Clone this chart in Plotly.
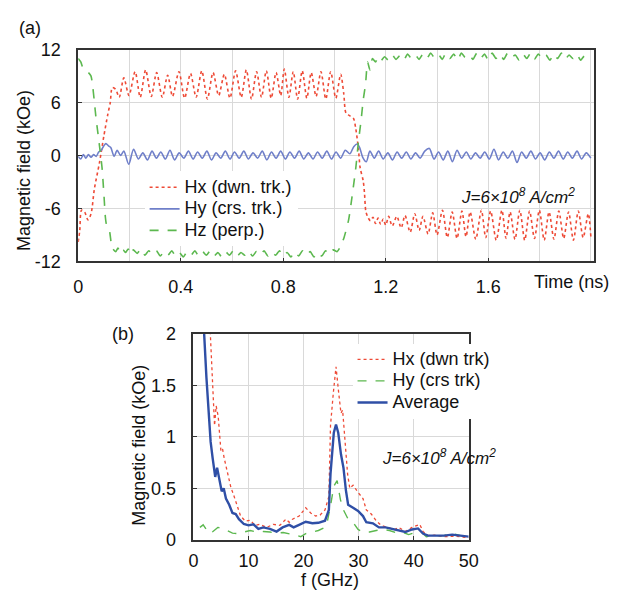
import plotly.graph_objects as go

W, H = 631, 601

# ---------------- Panel (a): time domain ----------------
hx_t = [0.0, 0.006, 0.013, 0.025, 0.038, 0.05, 0.063, 0.083, 0.10, 0.115, 0.125, 0.133, 0.146, 0.16,
        0.178, 0.198, 0.222, 0.242, 0.263, 0.285, 0.306, 0.328, 0.349, 0.368, 0.393, 0.415, 0.438,
        0.46, 0.482, 0.504, 0.526, 0.548, 0.57, 0.592, 0.614, 0.636, 0.656, 0.676, 0.696, 0.715,
        0.734, 0.753, 0.772, 0.79, 0.804, 0.822, 0.839, 0.856, 0.874, 0.892, 0.909, 0.928, 0.947,
        0.966, 0.985, 1.005, 1.024, 1.036, 1.045, 1.06, 1.074, 1.083, 1.093, 1.10, 1.112, 1.117,
        1.122, 1.13, 1.14, 1.15, 1.16, 1.17, 1.18, 1.19, 1.20, 1.211, 1.225, 1.243, 1.26, 1.275,
        1.295, 1.313, 1.33, 1.345, 1.365, 1.383, 1.40, 1.421, 1.44, 1.459, 1.478, 1.497, 1.513,
        1.529, 1.551, 1.573, 1.59, 1.609, 1.631, 1.653, 1.669, 1.685, 1.704, 1.723, 1.742, 1.761,
        1.78, 1.799, 1.818, 1.837, 1.856, 1.875, 1.894, 1.913, 1.932, 1.951, 1.97, 1.99, 2.0]
hx_v = [-9.8, -8.5, -6.2, -6.4, -7.3, -6.6, -3.8, -0.8, 2.2, 4.6, 6.0, 7.7, 7.5, 6.6,
        8.8, 6.8, 9.5, 6.6, 9.7, 6.7, 9.4, 6.6, 9.1, 6.7, 9.5, 6.5, 9.3,
        6.6, 9.6, 6.4, 9.4, 6.8, 9.2, 6.5, 9.6, 6.6, 9.7, 6.4, 9.5, 6.6,
        9.6, 6.5, 9.4, 6.8, 9.8, 6.6, 9.5, 6.4, 9.6, 6.5, 9.4, 6.7, 9.5,
        6.4, 9.5, 6.5, 9.2, 7.0, 4.8, 4.5, 4.2, 3.0, 0.8, -1.4, -2.9, -4.3,
        -6.3, -7.0, -7.4, -7.0, -7.7, -7.1, -7.8, -7.2, -7.9, -6.9, -8.0, -6.9, -8.2, -6.8,
        -8.7, -6.6, -8.5, -6.9, -8.9, -6.5, -9.0, -6.2, -9.3, -6.4, -9.4, -6.3, -9.2,
        -6.4, -9.5, -6.2, -9.3, -6.3, -9.6, -6.2, -9.4, -6.4, -9.5, -6.2, -9.6, -6.3,
        -9.4, -6.2, -9.6, -6.4, -9.5, -6.3, -9.4, -6.4, -9.6, -6.3, -9.3, -6.6, -9.2]

hy_t = [0.0, 0.01, 0.02, 0.03, 0.04, 0.05, 0.06, 0.07, 0.08, 0.09, 0.1, 0.108, 0.118, 0.127, 0.14,
        0.152, 0.165, 0.178, 0.197, 0.216, 0.235, 0.252, 0.27, 0.288, 0.305, 0.322, 0.34, 0.358,
        0.376, 0.394, 0.412, 0.43, 0.448, 0.466, 0.484, 0.502, 0.52, 0.538, 0.556, 0.574, 0.592,
        0.61, 0.628, 0.646, 0.664, 0.682, 0.70, 0.718, 0.736, 0.754, 0.772, 0.79, 0.808, 0.826,
        0.844, 0.862, 0.88, 0.898, 0.916, 0.934, 0.952, 0.97, 0.988, 1.006, 1.024, 1.042, 1.06,
        1.075, 1.088, 1.098, 1.11, 1.124, 1.138, 1.155, 1.172, 1.19, 1.208, 1.226, 1.244, 1.262,
        1.28, 1.298, 1.316, 1.334, 1.352, 1.37, 1.388, 1.406, 1.424, 1.442, 1.46, 1.478, 1.496,
        1.514, 1.532, 1.55, 1.568, 1.586, 1.604, 1.622, 1.64, 1.658, 1.676, 1.694, 1.712, 1.73,
        1.748, 1.766, 1.784, 1.802, 1.82, 1.838, 1.856, 1.874, 1.892, 1.91, 1.928, 1.946, 1.964,
        1.982, 2.0]
hy_v = [-0.1, -0.4, 0.1, -0.3, 0.1, -0.2, 0.1, -0.1, 0.4, 0.6, 1.1, 1.35, 1.1, 0.9, -0.1,
        0.6, 0.0, 0.5, -1.0, 0.7, -0.4, 0.3, -0.5, 0.5, -0.3, 0.4, -0.4, 0.6,
        -0.5, 0.3, -0.3, 0.5, -0.4, 0.4, -0.3, 0.5, -0.5, 0.3, -0.3, 0.5, -0.4,
        0.4, -0.3, 0.5, -0.4, 0.3, -0.3, 0.5, -0.5, 0.4, -0.3, 0.5, -0.4, 0.4,
        -0.3, 0.5, -0.4, 0.3, -0.4, 0.4, -0.3, 0.5, -0.4, 0.4, -0.3, 0.6, 0.2,
        1.0, 1.3, 0.9, -0.2, -0.7, 0.5, -0.3, 0.5, -0.4, 0.3, -0.5, 0.4, -0.3,
        0.4, -0.4, 0.3, -0.3, 0.5, 0.8, -0.4, 0.4, -0.5, 0.5, -0.7, 0.6, -0.3,
        0.4, -0.4, 0.3, -0.3, 0.4, -0.4, 0.7, -0.5, 0.4, -0.3, 0.5, -0.8, 0.4,
        -0.3, 0.5, -0.4, 0.3, -0.5, 0.4, -0.3, 0.5, -0.4, 0.4, -0.3, 0.5, -0.4,
        0.3, -0.3]

hz_t = [0.0, 0.01, 0.02, 0.03, 0.04, 0.05, 0.057, 0.064, 0.07, 0.077, 0.083, 0.093, 0.10, 0.106,
        0.11, 0.115, 0.123, 0.128, 0.133, 0.146, 0.155, 0.165, 0.175, 0.185, 0.195, 0.205, 0.215,
        0.23, 0.245, 0.26, 0.275, 0.29, 0.305, 0.32, 0.335, 0.35, 0.365, 0.38, 0.395, 0.41, 0.425,
        0.44, 0.455, 0.47, 0.485, 0.50, 0.515, 0.53, 0.545, 0.56, 0.575, 0.59, 0.605, 0.62, 0.635,
        0.65, 0.665, 0.68, 0.695, 0.71, 0.725, 0.74, 0.755, 0.77, 0.785, 0.80, 0.815, 0.83, 0.845,
        0.86, 0.875, 0.89, 0.905, 0.92, 0.935, 0.95, 0.965, 0.98, 0.995, 1.01, 1.02, 1.036, 1.055,
        1.07, 1.083, 1.093, 1.104, 1.112, 1.121, 1.129, 1.138, 1.148, 1.16, 1.17, 1.18, 1.195,
        1.21, 1.225, 1.24, 1.255, 1.27, 1.285, 1.30, 1.315, 1.33, 1.345, 1.36, 1.375, 1.39, 1.405,
        1.42, 1.435, 1.45, 1.465, 1.48, 1.495, 1.51, 1.525, 1.54, 1.555, 1.57, 1.585, 1.60, 1.615,
        1.63, 1.645, 1.66, 1.675, 1.69, 1.705, 1.72, 1.735, 1.75, 1.765, 1.78, 1.795, 1.81, 1.825,
        1.84, 1.855, 1.87, 1.885, 1.90, 1.915, 1.93, 1.945, 1.96, 1.975, 1.99, 2.0]
hz_v = [11.0, 10.6, 9.8, 9.6, 9.4, 9.0, 7.7, 5.8, 4.1, 2.5, 1.1, -1.4, -4.3, -7.0,
        -7.8, -8.0, -8.7, -9.8, -10.5, -10.9, -10.5, -11.1, -10.7, -11.0, -10.6, -11.2, -10.7,
        -11.1, -10.6, -11.3, -10.8, -11.2, -10.8, -11.4, -10.9, -11.3, -10.8, -11.4, -11.0, -11.5, -10.9,
        -11.3, -10.8, -11.4, -10.9, -11.3, -10.8, -11.4, -11.0, -11.5, -10.9, -11.3, -10.8, -11.4, -11.0,
        -11.3, -10.8, -11.4, -10.9, -11.3, -10.8, -11.4, -10.9, -11.3, -10.8, -11.4, -11.0, -11.5, -10.9,
        -11.4, -10.8, -11.3, -10.9, -11.5, -11.0, -11.4, -10.8, -11.2, -10.7, -10.9, -10.5, -9.4, -7.3,
        -4.3, -1.4, 1.5, 4.1, 6.3, 8.1, 10.6, 9.7, 11.0, 10.6, 11.1, 10.7, 11.2,
        10.8, 11.4, 10.9, 11.3, 10.8, 11.5, 11.0, 11.4, 10.9, 11.5, 11.0, 11.6, 11.1, 11.5,
        10.9, 11.6, 11.0, 11.5, 10.8, 11.6, 11.1, 11.4, 10.9, 11.6, 11.0, 11.5, 10.8, 11.6,
        11.0, 11.5, 10.9, 11.6, 11.1, 11.4, 10.8, 11.5, 11.0, 11.6, 10.9, 11.5, 11.0, 11.4,
        10.8, 11.5, 11.0, 11.6, 10.9, 11.4, 11.0, 11.5, 10.8, 11.3, 10.9, 11.0]

a_xticks = [0, 0.4, 0.8, 1.2, 1.6]
a_xlabels = ["0", "0.4", "0.8", "1.2", "1.6"]
a_yticks = [-12, -6, 0, 6, 12]
a_ylabels = ["-12", "-6", "0", "6", "12"]

# ---------------- Panel (b): frequency domain ----------------
avg_f = [1.7, 1.95, 2.36, 2.78, 3.13, 3.5, 3.96, 4.3, 4.73, 5.14, 5.5, 5.91, 6.5, 7.09, 7.68, 8.27,
         9.16, 10.0, 10.9, 11.8, 12.7, 13.9, 15.1, 16.2, 17.4, 18.2, 19.0, 20.4, 21.6, 22.7, 23.9,
         24.6, 24.9, 25.5, 25.9, 26.3, 26.8, 27.25, 27.7, 28.1, 29.0, 29.9, 30.8, 31.4, 32.6, 33.7,
         34.9, 36.1, 37.3, 38.5, 39.7, 40.8, 41.7, 42.6, 43.8, 45.5, 47.0, 48.5, 50.0]
avg_v = [2.4, 2.0, 1.58, 1.26, 0.95, 0.79, 0.61, 0.70, 0.575, 0.47, 0.50, 0.40, 0.34, 0.26, 0.25, 0.20,
         0.153, 0.14, 0.15, 0.106, 0.12, 0.106, 0.08, 0.12, 0.144, 0.12, 0.14, 0.175, 0.16, 0.165, 0.185,
         0.29, 0.64, 1.04, 1.12, 1.04, 0.83, 0.70, 0.48, 0.34, 0.31, 0.28, 0.23, 0.17, 0.16, 0.12,
         0.12, 0.106, 0.09, 0.075, 0.10, 0.11, 0.06, 0.04, 0.04, 0.04, 0.05, 0.04, 0.03]

bx_f = [2.9, 3.3, 3.55, 3.84, 4.13, 4.5, 5.0, 5.3, 5.6, 6.2, 6.8, 7.4, 8.0, 8.57, 9.45, 10.3, 11.2,
        12.1, 13.3, 14.5, 15.7, 16.8, 17.4, 18.0, 19.2, 20.4, 21.3, 22.2, 23.0, 23.9, 24.6, 24.9,
        25.4, 25.9, 26.4, 26.8, 27.1, 27.5, 28.0, 28.4, 29.0, 29.9, 30.8, 31.4, 32.3, 33.2, 34.1,
        35.3, 36.5, 37.3, 38.5, 39.7, 41.1, 41.7, 42.6, 43.8, 45.5, 47.5, 50.0]
bx_v = [2.2, 1.75, 1.42, 1.11, 1.3, 1.2, 0.86, 0.88, 0.79, 0.64, 0.51, 0.42, 0.33, 0.23, 0.18, 0.19, 0.14,
        0.15, 0.12, 0.15, 0.14, 0.2, 0.17, 0.2, 0.23, 0.31, 0.26, 0.23, 0.24, 0.29, 0.42, 1.11,
        1.42, 1.68, 1.42, 1.23, 1.26, 0.95, 0.64, 0.50, 0.53, 0.46, 0.40, 0.29, 0.25, 0.185, 0.14,
        0.12, 0.10, 0.12, 0.08, 0.12, 0.15, 0.08, 0.04, 0.045, 0.03, 0.035, 0.02]

by_f = [1.18, 1.77, 2.36, 2.95, 3.55, 4.43, 5.3, 6.2, 7.1, 8.0, 9.2, 10.3, 11.5, 12.7, 13.9, 15.1,
        16.3, 17.4, 18.6, 19.5, 20.4, 21.6, 22.7, 23.9, 24.3, 24.9, 25.5, 26.1, 26.7, 27.25, 28.1,
        29.0, 29.9, 30.8, 32.0, 33.2, 34.4, 35.6, 36.7, 37.9, 39.1, 40.3, 41.4, 42.3, 43.8, 45.5,
        47.0, 48.5, 50.0]
by_v = [0.12, 0.145, 0.10, 0.06, 0.08, 0.12, 0.11, 0.09, 0.065, 0.06, 0.075, 0.09, 0.075, 0.08, 0.075, 0.065,
        0.07, 0.06, 0.045, 0.03, 0.06, 0.075, 0.09, 0.12, 0.17, 0.33, 0.52, 0.575, 0.39, 0.29, 0.2,
        0.17, 0.10, 0.075, 0.075, 0.09, 0.10, 0.09, 0.07, 0.075, 0.05, 0.07, 0.075, 0.03, 0.04, 0.04,
        0.06, 0.04, 0.03]

b_xticks = [0, 10, 20, 30, 40, 50]
b_yticks = [0, 0.5, 1, 1.5, 2]
b_ylabels = ["0", "0.5", "1", "1.5", "2"]

RED = "#ee4a36"
BLUE_A = "#6f7fc9"
GREEN = "#5cb84f"
BLUE_AVG = "#2f4fa6"
FONT = "Liberation Sans, Arial, sans-serif"
TXT = "#111111"
GRID = "#d9d9d9"


def px(x):
    return x / W


def py(y):
    return 1 - y / H


def big(s):
    # legend spacing follows the (smaller) legend font; the visible text is 18 px
    return '<span style="font-size:18px">' + s + '</span>'


fig = go.Figure()

fig.add_trace(go.Scatter(x=hx_t, y=hx_v, mode="lines", name=big("Hx (dwn. trk.)"),
                         line=dict(color=RED, width=1.6, dash="dot", shape="spline", smoothing=0.8),
                         xaxis="x", yaxis="y", legend="legend"))
fig.add_trace(go.Scatter(x=hy_t, y=hy_v, mode="lines", name=big("Hy (crs. trk.)"),
                         line=dict(color=BLUE_A, width=1.6, shape="spline", smoothing=0.8),
                         xaxis="x", yaxis="y", legend="legend"))
fig.add_trace(go.Scatter(x=hz_t, y=hz_v, mode="lines", name=big("Hz (perp.)"),
                         line=dict(color=GREEN, width=1.6, dash="dash", shape="spline", smoothing=0.6),
                         xaxis="x", yaxis="y", legend="legend"))

fig.add_trace(go.Scatter(x=bx_f, y=bx_v, mode="lines", name=big("Hx (dwn trk)"),
                         line=dict(color=RED, width=1.3, dash="dot"),
                         xaxis="x2", yaxis="y2", legend="legend2"))
fig.add_trace(go.Scatter(x=by_f, y=by_v, mode="lines", name=big("Hy (crs trk)"),
                         line=dict(color=GREEN, width=1.4, dash="dash"),
                         xaxis="x2", yaxis="y2", legend="legend2"))
fig.add_trace(go.Scatter(x=avg_f, y=avg_v, mode="lines", name=big("Average"),
                         line=dict(color=BLUE_AVG, width=2.4),
                         xaxis="x2", yaxis="y2", legend="legend2"))

axis_common = dict(showline=True, linecolor="#333333", linewidth=1.5, mirror=True,
                   gridcolor=GRID, gridwidth=1, zeroline=False,
                   ticks="inside", ticklen=4, tickcolor="#333333",
                   tickfont=dict(family=FONT, size=18, color=TXT))

LEG_FONT = dict(family=FONT, size=14.3, color=TXT)

fig.update_layout(
    width=W, height=H,
    margin=dict(l=0, r=0, t=0, b=0),
    paper_bgcolor="white", plot_bgcolor="white",
    font=dict(family=FONT, size=18, color=TXT),
    xaxis=dict(domain=[px(75), px(603)], range=[0, 2.011], tickmode="array",
               tickvals=a_xticks, ticktext=a_xlabels, anchor="y", ticklabelstandoff=8,
               minor=dict(tick0=0, dtick=0.2, showgrid=True, gridcolor=GRID, gridwidth=1, ticks=""),
               **axis_common),
    yaxis=dict(domain=[py(260), py(41)], range=[-12, 12], tickmode="array",
               tickvals=a_yticks, ticktext=a_ylabels, anchor="x", ticklabelstandoff=12, **axis_common),
    xaxis2=dict(domain=[px(193), px(475)], range=[0, 50], tickmode="array",
                tickvals=b_xticks, anchor="y2", ticklabelstandoff=4, **axis_common),
    yaxis2=dict(domain=[py(548), py(335)], range=[0, 2], tickmode="array",
                tickvals=b_yticks, ticktext=b_ylabels, anchor="x2", ticklabelstandoff=12, **axis_common),
    legend=dict(x=px(143), y=py(167), xanchor="left", yanchor="top", bgcolor="white",
                font=LEG_FONT, itemwidth=30, tracegroupgap=0, borderwidth=0),
    legend2=dict(x=px(356), y=py(345), xanchor="left", yanchor="top", bgcolor="white",
                 font=LEG_FONT, itemwidth=30, tracegroupgap=0, borderwidth=0),
    showlegend=True,
)

ann = []
ann.append(dict(text="(a)", x=px(12), y=py(19), xanchor="left", yanchor="middle"))
ann.append(dict(text="(b)", x=px(108), y=py(335), xanchor="left", yanchor="middle"))
ann.append(dict(text="Magnetic field (kOe)", x=px(20), y=py(166), textangle=-90,
                xanchor="center", yanchor="middle"))
ann.append(dict(text="Magnetic field (kOe)", x=px(137), y=py(450), textangle=-90,
                xanchor="center", yanchor="middle"))
ann.append(dict(text="Time (ns)", x=px(580), y=py(281), xanchor="center", yanchor="middle",
                bgcolor="white"))
ann.append(dict(text="f (GHz)", x=px(333), y=py(590), xanchor="center", yanchor="middle"))
ann.append(dict(text="<i>J=6×10<sup>8</sup> A/cm<sup>2</sup></i>", x=px(526), y=py(192),
                xanchor="center", yanchor="middle", font=dict(family=FONT, size=17, color=TXT)))
ann.append(dict(text="<i>J=6×10<sup>8</sup> A/cm<sup>2</sup></i>", x=px(445), y=py(462),
                xanchor="center", yanchor="middle", font=dict(family=FONT, size=17, color=TXT)))
for a in ann:
    a.setdefault("font", dict(family=FONT, size=18, color=TXT))
    a.update(xref="paper", yref="paper", showarrow=False)
fig.update_layout(annotations=ann)

fig.write_html("out.html")
